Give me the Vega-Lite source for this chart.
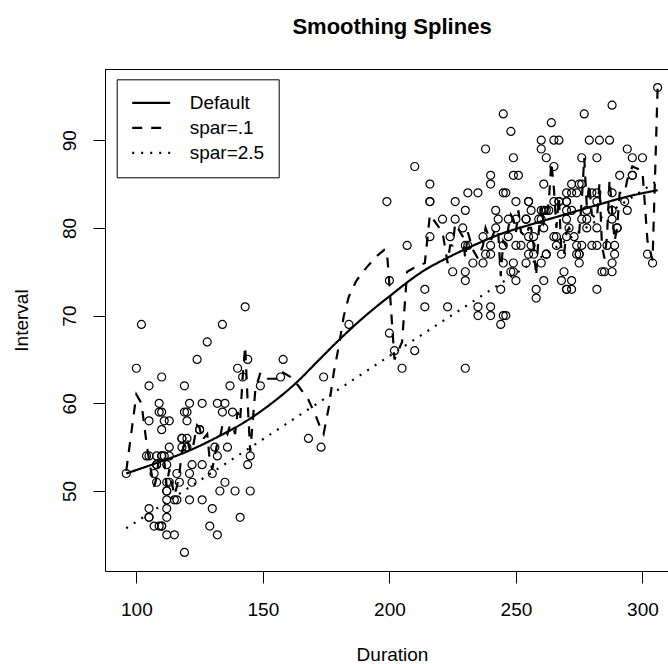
{
"$schema": "https://vega.github.io/schema/vega-lite/v6.json",
"autosize": {"type": "none"},
"padding": {"left": 105, "top": 69, "right": 0, "bottom": 93},
"width": 563,
"height": 502,
"background": "white",
"config": {
  "view": {"stroke": null},
  "font": "Liberation Sans",
  "axis": {"grid": false, "domainColor": "black", "tickColor": "black", "labelColor": "black", "titleColor": "black", "labelFont": "Liberation Sans", "titleFont": "Liberation Sans", "labelFontSize": 19, "titleFontSize": 19, "titleFontWeight": "normal", "tickSize": 12, "domainWidth": 1, "tickWidth": 1}
},
"title": {"text": "Smoothing Splines", "fontSize": 22, "fontWeight": "bold", "font": "Liberation Sans", "color": "black", "anchor": "middle", "frame": "group", "dx": 5.5, "baseline": "alphabetic", "offset": 13},
"layer": [
{
  "data": {"values": [
{"Duration":216,"Interval":79},{"Duration":108,"Interval":54},{"Duration":200,"Interval":74},{"Duration":137,"Interval":62},{"Duration":272,"Interval":85},{"Duration":173,"Interval":55},{"Duration":282,"Interval":88},{"Duration":216,"Interval":85},{"Duration":117,"Interval":51},{"Duration":261,"Interval":85},
{"Duration":110,"Interval":54},{"Duration":235,"Interval":84},{"Duration":252,"Interval":78},{"Duration":105,"Interval":47},{"Duration":282,"Interval":83},{"Duration":130,"Interval":52},{"Duration":105,"Interval":62},{"Duration":288,"Interval":84},{"Duration":96,"Interval":52},{"Duration":255,"Interval":79},
{"Duration":108,"Interval":51},{"Duration":105,"Interval":47},{"Duration":207,"Interval":78},{"Duration":184,"Interval":69},{"Duration":272,"Interval":74},{"Duration":216,"Interval":83},{"Duration":118,"Interval":55},{"Duration":245,"Interval":76},{"Duration":231,"Interval":78},{"Duration":266,"Interval":79},
{"Duration":258,"Interval":73},{"Duration":268,"Interval":77},{"Duration":202,"Interval":66},{"Duration":242,"Interval":80},{"Duration":230,"Interval":74},{"Duration":121,"Interval":52},{"Duration":112,"Interval":48},{"Duration":290,"Interval":80},{"Duration":110,"Interval":59},{"Duration":287,"Interval":90},
{"Duration":261,"Interval":80},{"Duration":113,"Interval":58},{"Duration":274,"Interval":84},{"Duration":105,"Interval":58},{"Duration":272,"Interval":73},{"Duration":199,"Interval":83},{"Duration":230,"Interval":64},{"Duration":126,"Interval":53},{"Duration":278,"Interval":82},{"Duration":120,"Interval":59},
{"Duration":288,"Interval":75},{"Duration":283,"Interval":90},{"Duration":110,"Interval":54},{"Duration":290,"Interval":80},{"Duration":104,"Interval":54},{"Duration":293,"Interval":83},{"Duration":223,"Interval":71},{"Duration":100,"Interval":64},{"Duration":274,"Interval":77},{"Duration":259,"Interval":81},
{"Duration":134,"Interval":59},{"Duration":270,"Interval":84},{"Duration":105,"Interval":48},{"Duration":288,"Interval":82},{"Duration":109,"Interval":60},{"Duration":264,"Interval":92},{"Duration":250,"Interval":78},{"Duration":282,"Interval":78},{"Duration":124,"Interval":65},{"Duration":282,"Interval":73},
{"Duration":242,"Interval":82},{"Duration":118,"Interval":56},{"Duration":270,"Interval":79},{"Duration":240,"Interval":71},{"Duration":119,"Interval":62},{"Duration":304,"Interval":76},{"Duration":121,"Interval":60},{"Duration":274,"Interval":78},{"Duration":233,"Interval":76},{"Duration":216,"Interval":83},
{"Duration":248,"Interval":75},{"Duration":260,"Interval":82},{"Duration":246,"Interval":70},{"Duration":158,"Interval":65},{"Duration":244,"Interval":73},{"Duration":296,"Interval":88},{"Duration":237,"Interval":76},{"Duration":271,"Interval":80},{"Duration":130,"Interval":48},{"Duration":240,"Interval":86},
{"Duration":132,"Interval":60},{"Duration":260,"Interval":90},{"Duration":112,"Interval":50},{"Duration":289,"Interval":78},{"Duration":110,"Interval":63},{"Duration":258,"Interval":72},{"Duration":280,"Interval":84},{"Duration":225,"Interval":75},{"Duration":112,"Interval":51},{"Duration":294,"Interval":82},
{"Duration":149,"Interval":62},{"Duration":262,"Interval":88},{"Duration":126,"Interval":49},{"Duration":270,"Interval":83},{"Duration":243,"Interval":81},{"Duration":112,"Interval":47},{"Duration":282,"Interval":84},{"Duration":107,"Interval":52},{"Duration":291,"Interval":86},{"Duration":221,"Interval":81},
{"Duration":284,"Interval":75},{"Duration":138,"Interval":59},{"Duration":294,"Interval":89},{"Duration":265,"Interval":79},{"Duration":102,"Interval":69},{"Duration":278,"Interval":81},{"Duration":139,"Interval":50},{"Duration":276,"Interval":85},{"Duration":109,"Interval":59},{"Duration":265,"Interval":87},
{"Duration":157,"Interval":63},{"Duration":244,"Interval":69},{"Duration":255,"Interval":77},{"Duration":118,"Interval":56},{"Duration":276,"Interval":88},{"Duration":226,"Interval":81},{"Duration":115,"Interval":45},{"Duration":270,"Interval":82},{"Duration":136,"Interval":55},{"Duration":279,"Interval":90},
{"Duration":112,"Interval":45},{"Duration":250,"Interval":83},{"Duration":168,"Interval":56},{"Duration":260,"Interval":89},{"Duration":110,"Interval":46},{"Duration":263,"Interval":82},{"Duration":113,"Interval":51},{"Duration":296,"Interval":86},{"Duration":122,"Interval":53},{"Duration":224,"Interval":79},
{"Duration":254,"Interval":81},{"Duration":134,"Interval":69},{"Duration":272,"Interval":82},{"Duration":289,"Interval":77},{"Duration":260,"Interval":76},{"Duration":119,"Interval":59},{"Duration":278,"Interval":80},{"Duration":121,"Interval":49},{"Duration":306,"Interval":96},{"Duration":108,"Interval":53},
{"Duration":302,"Interval":77},{"Duration":240,"Interval":77},{"Duration":144,"Interval":65},{"Duration":276,"Interval":81},{"Duration":214,"Interval":71},{"Duration":240,"Interval":70},{"Duration":270,"Interval":81},{"Duration":245,"Interval":93},{"Duration":108,"Interval":53},{"Duration":238,"Interval":89},
{"Duration":132,"Interval":45},{"Duration":249,"Interval":86},{"Duration":120,"Interval":58},{"Duration":230,"Interval":78},{"Duration":210,"Interval":66},{"Duration":275,"Interval":76},{"Duration":142,"Interval":63},{"Duration":300,"Interval":88},{"Duration":116,"Interval":52},{"Duration":277,"Interval":93},
{"Duration":115,"Interval":49},{"Duration":125,"Interval":57},{"Duration":275,"Interval":77},{"Duration":200,"Interval":68},{"Duration":250,"Interval":81},{"Duration":260,"Interval":81},{"Duration":270,"Interval":73},{"Duration":145,"Interval":50},{"Duration":240,"Interval":85},{"Duration":250,"Interval":74},
{"Duration":113,"Interval":55},{"Duration":275,"Interval":77},{"Duration":255,"Interval":83},{"Duration":226,"Interval":83},{"Duration":122,"Interval":51},{"Duration":266,"Interval":78},{"Duration":245,"Interval":84},{"Duration":110,"Interval":46},{"Duration":265,"Interval":83},{"Duration":131,"Interval":55},
{"Duration":288,"Interval":81},{"Duration":110,"Interval":57},{"Duration":288,"Interval":76},{"Duration":246,"Interval":84},{"Duration":238,"Interval":77},{"Duration":254,"Interval":81},{"Duration":210,"Interval":87},{"Duration":262,"Interval":77},{"Duration":135,"Interval":51},{"Duration":280,"Interval":78},
{"Duration":126,"Interval":60},{"Duration":261,"Interval":82},{"Duration":248,"Interval":91},{"Duration":112,"Interval":53},{"Duration":276,"Interval":78},{"Duration":107,"Interval":46},{"Duration":262,"Interval":77},{"Duration":231,"Interval":84},{"Duration":116,"Interval":49},{"Duration":270,"Interval":83},
{"Duration":143,"Interval":71},{"Duration":282,"Interval":80},{"Duration":112,"Interval":49},{"Duration":230,"Interval":75},{"Duration":205,"Interval":64},{"Duration":254,"Interval":76},{"Duration":144,"Interval":53},{"Duration":288,"Interval":94},{"Duration":120,"Interval":55},{"Duration":249,"Interval":76},
{"Duration":112,"Interval":50},{"Duration":256,"Interval":82},{"Duration":105,"Interval":54},{"Duration":269,"Interval":75},{"Duration":240,"Interval":78},{"Duration":247,"Interval":79},{"Duration":245,"Interval":78},{"Duration":256,"Interval":78},{"Duration":235,"Interval":70},{"Duration":273,"Interval":79},
{"Duration":245,"Interval":70},{"Duration":145,"Interval":54},{"Duration":251,"Interval":86},{"Duration":133,"Interval":50},{"Duration":267,"Interval":90},{"Duration":113,"Interval":54},{"Duration":111,"Interval":54},{"Duration":257,"Interval":77},{"Duration":237,"Interval":79},{"Duration":140,"Interval":64},
{"Duration":249,"Interval":75},{"Duration":141,"Interval":47},{"Duration":296,"Interval":86},{"Duration":174,"Interval":63},{"Duration":275,"Interval":85},{"Duration":230,"Interval":82},{"Duration":125,"Interval":57},{"Duration":262,"Interval":82},{"Duration":128,"Interval":67},{"Duration":261,"Interval":74},
{"Duration":132,"Interval":54},{"Duration":267,"Interval":83},{"Duration":214,"Interval":73},{"Duration":270,"Interval":73},{"Duration":249,"Interval":88},{"Duration":229,"Interval":80},{"Duration":235,"Interval":71},{"Duration":267,"Interval":83},{"Duration":120,"Interval":56},{"Duration":257,"Interval":79},
{"Duration":286,"Interval":78},{"Duration":272,"Interval":84},{"Duration":111,"Interval":58},{"Duration":255,"Interval":83},{"Duration":119,"Interval":43},{"Duration":135,"Interval":60},{"Duration":285,"Interval":75},{"Duration":247,"Interval":81},{"Duration":129,"Interval":46},{"Duration":265,"Interval":90},
{"Duration":109,"Interval":46},{"Duration":268,"Interval":74}
  ]},
  "mark": {"type": "point", "shape": "circle", "filled": false, "color": "black", "size": 64, "strokeWidth": 1.2, "opacity": 1},
  "encoding": {
    "x": {"field": "Duration", "type": "quantitative", "scale": {"domain": [87.6, 310.1], "nice": false, "zero": false},
          "axis": {"values": [100, 150, 200, 250, 300], "labelPadding": 17, "labelFlush": false, "labelOverlap": false, "title": "Duration", "titleX": 287, "titleY": 89, "titleAlign": "center", "titleBaseline": "alphabetic"}},
    "y": {"field": "Interval", "type": "quantitative", "scale": {"domain": [40.88, 98.12], "nice": false, "zero": false},
          "axis": {"values": [50, 60, 70, 80, 90], "labelAngle": 270, "labelAlign": "center", "labelBaseline": "alphabetic", "labelPadding": 18, "labelFlush": false, "labelOverlap": false, "title": "Interval", "titleAngle": 270, "titleX": -78, "titleY": 251, "titleAlign": "center", "titleBaseline": "alphabetic"}}
  }
},
{
  "data": {"values": [
{"Duration":96,"Interval":52.0,"series":"Default"},{"Duration":108,"Interval":53.2,"series":"Default"},{"Duration":120,"Interval":54.5,"series":"Default"},{"Duration":133,"Interval":56.3,"series":"Default"},{"Duration":143,"Interval":57.9,"series":"Default"},{"Duration":153,"Interval":59.9,"series":"Default"},{"Duration":163,"Interval":62.3,"series":"Default"},{"Duration":172,"Interval":64.9,"series":"Default"},{"Duration":180,"Interval":67.2,"series":"Default"},{"Duration":189,"Interval":69.6,"series":"Default"},{"Duration":200,"Interval":72.2,"series":"Default"},{"Duration":214,"Interval":75.2,"series":"Default"},{"Duration":223,"Interval":76.6,"series":"Default"},{"Duration":234,"Interval":78.1,"series":"Default"},{"Duration":243,"Interval":79.2,"series":"Default"},{"Duration":256,"Interval":80.4,"series":"Default"},{"Duration":269,"Interval":81.5,"series":"Default"},{"Duration":282,"Interval":82.6,"series":"Default"},{"Duration":293,"Interval":83.5,"series":"Default"},{"Duration":306,"Interval":84.3,"series":"Default"},
{"Duration":96,"Interval":45.75,"series":"spar=2.5"},{"Duration":150,"Interval":55.9,"series":"spar=2.5"},{"Duration":200,"Interval":65.4,"series":"spar=2.5"},{"Duration":250,"Interval":74.8,"series":"spar=2.5"},{"Duration":306,"Interval":85.4,"series":"spar=2.5"}
  ]},
  "mark": {"type": "line", "color": "black", "strokeWidth": 2.2, "interpolate": "monotone"},
  "encoding": {
    "x": {"field": "Duration", "type": "quantitative"},
    "y": {"field": "Interval", "type": "quantitative"},
    "strokeDash": {"field": "series", "type": "nominal",
      "scale": {"domain": ["Default", "spar=.1", "spar=2.5"], "range": [[1, 0], [10, 9], [2, 7]]},
      "legend": {"title": null, "orient": "none", "legendX": 11.7, "legendY": 10.3, "padding": 14, "strokeColor": "black", "fillColor": "white", "cornerRadius": 0, "symbolType": "stroke", "symbolSize": 1444, "symbolStrokeWidth": 2.2, "symbolStrokeColor": "black", "labelFontSize": 19, "labelFont": "Liberation Sans", "labelColor": "black", "labelOffset": 18, "rowPadding": 5, "clipHeight": 19, "labelLimit": 0}}
  }
},
{
  "data": {"values": [
{"Duration":96,"Interval":52.3},{"Duration":100,"Interval":61.0},{"Duration":102,"Interval":60.0},{"Duration":104,"Interval":55.5},{"Duration":105,"Interval":53.5},{"Duration":107,"Interval":50.5},{"Duration":108,"Interval":51.5},{"Duration":109,"Interval":54.0},{"Duration":110,"Interval":54.0},{"Duration":111,"Interval":53.5},
{"Duration":112,"Interval":50.5},{"Duration":113,"Interval":52.5},{"Duration":115,"Interval":49.5},{"Duration":116,"Interval":50.5},{"Duration":117,"Interval":52.0},{"Duration":118,"Interval":54.5},{"Duration":119,"Interval":55.3},{"Duration":120,"Interval":56.0},{"Duration":121,"Interval":54.8},{"Duration":122,"Interval":54.5},
{"Duration":124,"Interval":57.5},{"Duration":125,"Interval":57.2},{"Duration":126,"Interval":55.8},{"Duration":128,"Interval":56.5},{"Duration":129,"Interval":53.5},{"Duration":130,"Interval":52.5},{"Duration":131,"Interval":54.0},{"Duration":132,"Interval":55.5},{"Duration":133,"Interval":56.0},{"Duration":134,"Interval":57.5},
{"Duration":135,"Interval":57.0},{"Duration":136,"Interval":56.5},{"Duration":137,"Interval":57.5},{"Duration":138,"Interval":57.5},{"Duration":139,"Interval":56.5},{"Duration":140,"Interval":59.0},{"Duration":141,"Interval":58.0},{"Duration":142,"Interval":63.0},{"Duration":143,"Interval":66.5},{"Duration":144,"Interval":60.0},
{"Duration":145,"Interval":54.5},{"Duration":146,"Interval":58.0},{"Duration":147,"Interval":61.5},{"Duration":149,"Interval":63.5},{"Duration":152,"Interval":62.8},{"Duration":157,"Interval":62.8},{"Duration":158,"Interval":63.5},{"Duration":161,"Interval":63.0},{"Duration":164,"Interval":62.0},{"Duration":168,"Interval":60.4},
{"Duration":171,"Interval":58.5},{"Duration":173,"Interval":57.0},{"Duration":174,"Interval":56.5},{"Duration":176,"Interval":59.5},{"Duration":178,"Interval":63.5},{"Duration":180,"Interval":66.5},{"Duration":182,"Interval":70.0},{"Duration":184,"Interval":72.2},{"Duration":187,"Interval":74.0},{"Duration":191,"Interval":75.5},
{"Duration":195,"Interval":76.8},{"Duration":198,"Interval":77.5},{"Duration":199,"Interval":77.4},{"Duration":200,"Interval":73.5},{"Duration":202,"Interval":65.0},{"Duration":205,"Interval":67.0},{"Duration":207,"Interval":75.0},{"Duration":210,"Interval":75.5},{"Duration":214,"Interval":76.0},{"Duration":216,"Interval":81.5},
{"Duration":221,"Interval":79.5},{"Duration":223,"Interval":76.0},{"Duration":224,"Interval":78.0},{"Duration":225,"Interval":78.0},{"Duration":226,"Interval":80.5},{"Duration":229,"Interval":79.0},{"Duration":230,"Interval":76.5},{"Duration":231,"Interval":79.5},{"Duration":233,"Interval":77.5},{"Duration":235,"Interval":76.5},
{"Duration":237,"Interval":78.0},{"Duration":238,"Interval":80.0},{"Duration":240,"Interval":78.5},{"Duration":242,"Interval":80.0},{"Duration":243,"Interval":79.5},{"Duration":244,"Interval":74.5},{"Duration":245,"Interval":78.5},{"Duration":246,"Interval":78.0},{"Duration":247,"Interval":80.0},{"Duration":248,"Interval":81.5},
{"Duration":249,"Interval":81.0},{"Duration":250,"Interval":79.5},{"Duration":251,"Interval":82.0},{"Duration":252,"Interval":79.5},{"Duration":254,"Interval":79.0},{"Duration":255,"Interval":80.0},{"Duration":256,"Interval":80.0},{"Duration":257,"Interval":78.0},{"Duration":258,"Interval":74.5},{"Duration":259,"Interval":79.5},
{"Duration":260,"Interval":82.5},{"Duration":261,"Interval":80.5},{"Duration":262,"Interval":81.0},{"Duration":263,"Interval":83.0},{"Duration":264,"Interval":87.5},{"Duration":265,"Interval":84.5},{"Duration":266,"Interval":80.0},{"Duration":267,"Interval":83.5},{"Duration":268,"Interval":77.0},{"Duration":269,"Interval":77.0},
{"Duration":270,"Interval":79.5},{"Duration":271,"Interval":80.0},{"Duration":272,"Interval":79.5},{"Duration":273,"Interval":79.5},{"Duration":274,"Interval":79.5},{"Duration":275,"Interval":79.5},{"Duration":276,"Interval":83.0},{"Duration":277,"Interval":88.0},{"Duration":278,"Interval":82.5},{"Duration":279,"Interval":85.0},
{"Duration":280,"Interval":81.5},{"Duration":282,"Interval":81.0},{"Duration":283,"Interval":85.0},{"Duration":284,"Interval":78.0},{"Duration":285,"Interval":76.5},{"Duration":286,"Interval":79.0},{"Duration":287,"Interval":85.5},{"Duration":288,"Interval":82.0},{"Duration":289,"Interval":78.5},{"Duration":290,"Interval":80.0},
{"Duration":291,"Interval":84.0},{"Duration":293,"Interval":84.0},{"Duration":294,"Interval":85.5},{"Duration":296,"Interval":87.0},{"Duration":300,"Interval":86.5},{"Duration":302,"Interval":78.5},{"Duration":304,"Interval":76.3},{"Duration":306,"Interval":96.0}
  ]},
  "mark": {"type": "line", "color": "black", "strokeWidth": 2.2, "strokeDash": [10, 9]},
  "encoding": {
    "x": {"field": "Duration", "type": "quantitative"},
    "y": {"field": "Interval", "type": "quantitative"},
    "strokeDash": {"datum": "spar=.1"}
  }
},
{
  "data": {"values": [{}]},
  "mark": {"type": "rule", "color": "black", "strokeWidth": 1},
  "encoding": {"y": {"datum": 98.06}}
}
]
}
